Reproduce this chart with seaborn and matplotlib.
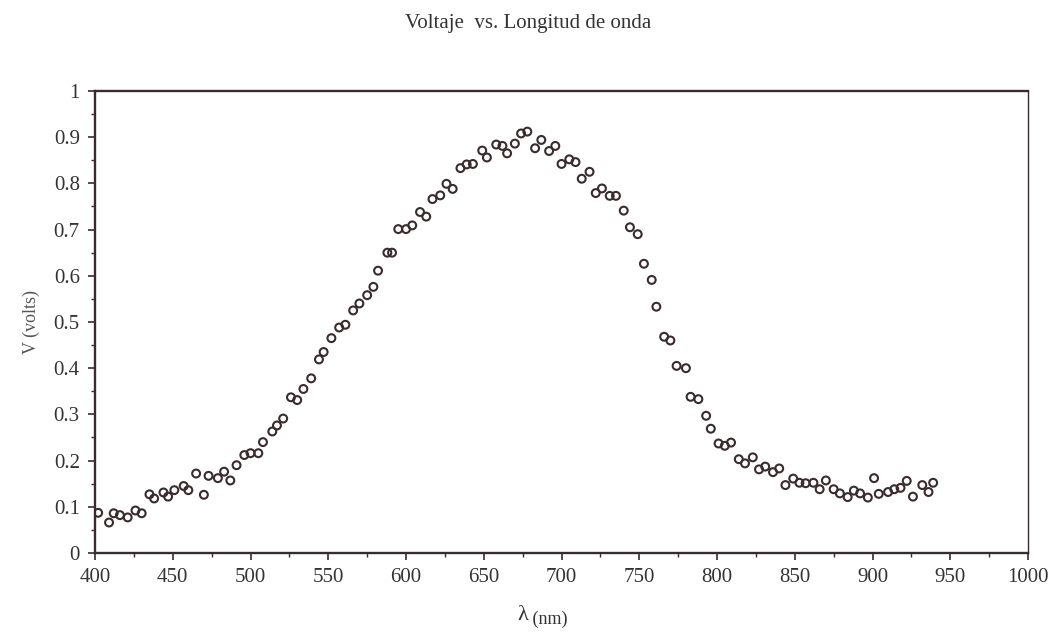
import matplotlib
matplotlib.use("Agg")
import matplotlib.pyplot as plt
import seaborn as sns
import pandas as pd
from matplotlib.ticker import MultipleLocator, FuncFormatter

wavelength = [402, 409, 412, 416, 421, 426, 430, 435, 438, 444, 447, 451, 457, 460, 465, 470, 473, 479, 483, 487,
              491, 496, 500, 505, 508, 514, 517, 521, 526, 530, 534, 539, 544, 547, 552, 557, 561, 566, 570, 575,
              579, 582, 588, 591, 595, 600, 604, 609, 613, 617, 622, 626, 630, 635, 639, 643, 649, 652, 658, 662,
              665, 670, 674, 678, 683, 687, 692, 696, 700, 705, 709, 713, 718, 722, 726, 731, 735, 740, 744, 749,
              753, 758, 761, 766, 770, 774, 780, 783, 788, 793, 796, 801, 805, 809, 814, 818, 823, 827, 831, 836,
              840, 844, 849, 853, 857, 862, 866, 870, 875, 879, 884, 888, 892, 897, 901, 904, 910, 914, 918, 922,
              926, 932, 936, 939]
voltage = [0.087, 0.066, 0.086, 0.082, 0.077, 0.092, 0.086, 0.127, 0.118, 0.131, 0.122, 0.136, 0.145, 0.136, 0.172,
           0.126, 0.167, 0.162, 0.176, 0.157, 0.190, 0.212, 0.216, 0.216, 0.240, 0.263, 0.276, 0.291, 0.337, 0.331,
           0.355, 0.378, 0.419, 0.435, 0.465, 0.488, 0.494, 0.525, 0.540, 0.558, 0.576, 0.611, 0.650, 0.650, 0.701,
           0.701, 0.709, 0.738, 0.728, 0.766, 0.774, 0.799, 0.788, 0.833, 0.841, 0.842, 0.871, 0.856, 0.884, 0.881,
           0.865, 0.886, 0.908, 0.912, 0.876, 0.894, 0.870, 0.881, 0.842, 0.852, 0.846, 0.810, 0.825, 0.779, 0.789,
           0.773, 0.773, 0.741, 0.705, 0.690, 0.626, 0.591, 0.533, 0.468, 0.460, 0.405, 0.400, 0.338, 0.333, 0.297,
           0.269, 0.237, 0.232, 0.239, 0.203, 0.194, 0.207, 0.181, 0.187, 0.175, 0.183, 0.147, 0.161, 0.152, 0.151,
           0.152, 0.138, 0.157, 0.138, 0.129, 0.121, 0.135, 0.129, 0.120, 0.162, 0.128, 0.132, 0.138, 0.141, 0.156,
           0.122, 0.147, 0.132, 0.152]

title = "Voltaje  vs. Longitud de onda"
xlabel = "λ"
ylabel = "V (volts)"

sns.set_style("white")
plt.rcParams["font.family"] = ["Liberation Serif", "DejaVu Serif"]

df = pd.DataFrame({"wl": wavelength, "v": voltage})

fig = plt.figure(figsize=(10.56, 6.36), dpi=100)
ax = fig.add_axes([0.090, 0.1305, 0.8835, 0.7265])

edge = "#3a2c2e"
sns.scatterplot(data=df, x="wl", y="v", ax=ax, marker="o", s=32,
                facecolor="none", edgecolor=edge, linewidth=1.5, legend=False)

ax.set_xlim(400, 1000)
ax.set_ylim(0, 1)
ax.xaxis.set_major_locator(MultipleLocator(50))
ax.xaxis.set_minor_locator(MultipleLocator(25))
ax.yaxis.set_major_locator(MultipleLocator(0.1))
ax.yaxis.set_minor_locator(MultipleLocator(0.05))
ax.yaxis.set_major_formatter(FuncFormatter(lambda v, p: "%g" % round(v, 2)))

ax.tick_params(axis="both", which="major", direction="out", length=5, width=1.2,
               color=edge, labelsize=15, labelcolor="#333333", pad=6)
ax.tick_params(axis="both", which="minor", direction="out", length=3, width=1.0, color=edge)
ax.tick_params(bottom=True, left=True, which="both")

for side, sp in ax.spines.items():
    sp.set_visible(True)
    sp.set_color(edge)
    sp.set_linewidth(1.7 if side != "right" else 1.0)

ax.set_xlabel("")
ax.set_ylabel(ylabel, fontsize=13, color="#555555", labelpad=10)
fig.text(0.5, 0.033, xlabel, ha="right", va="center", fontsize=16, color="#333333")
fig.text(0.5, 0.026, " (nm)", ha="left", va="center", fontsize=13, color="#333333")

fig.text(0.5, 0.963, title, ha="center", va="center", fontsize=15, color="#333333")

fig.savefig("out.png", dpi=100)
